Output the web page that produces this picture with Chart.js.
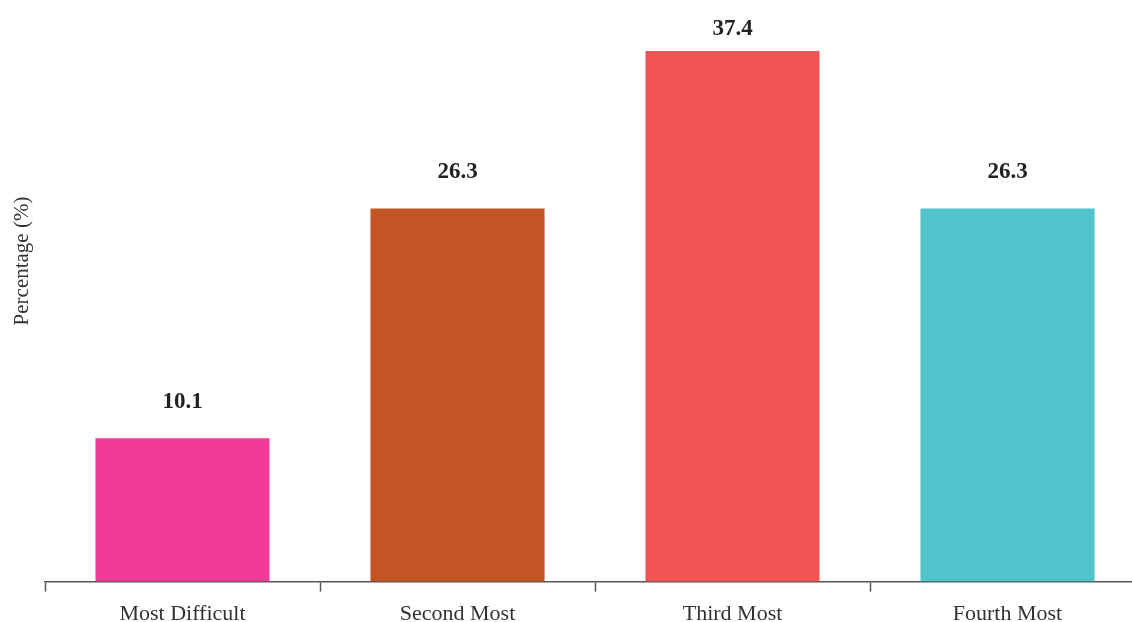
<!DOCTYPE html>
<html>
<head>
<meta charset="utf-8">
<script src="https://cdn.jsdelivr.net/npm/chart.js@4/dist/chart.umd.min.js"></script>
<style>
  html, body { margin: 0; padding: 0; background: #fff; overflow: hidden; }
  #frame { width: 1132px; height: 622px; overflow: hidden; }
  #wrap { position: relative; width: 1150px; height: 636px; }
</style>
</head>
<body>
<div id="frame"><div id="wrap"><canvas id="rankChart"></canvas></div></div>
<script>
const categories = ["Most Difficult", "Second Most", "Third Most", "Fourth Most"];
const percentages = [10.1, 26.3, 37.4, 26.3];
const barColors = ["#F03C98", "#C55424", "#F25456", "#50C4CB"];
const axisTitle = "Percentage (%)";

const serif = "'Liberation Serif', 'DejaVu Serif', serif";

// value labels above each bar, kept inside the top edge
const valueLabels = {
  id: "valueLabels",
  afterDatasetsDraw(chart) {
    const { ctx } = chart;
    const meta = chart.getDatasetMeta(0);
    ctx.save();
    ctx.font = "bold 23px " + serif;
    ctx.fillStyle = "#222";
    ctx.textAlign = "center";
    ctx.textBaseline = "alphabetic";
    meta.data.forEach((bar, i) => {
      const y = Math.max(bar.y - 30, 35);
      ctx.fillText(percentages[i].toFixed(1), bar.x, y);
    });
    ctx.restore();
  },
};

// rotated y axis title, left of the plot
const yTitle = {
  id: "yTitle",
  afterDraw(chart) {
    const { ctx } = chart;
    ctx.save();
    ctx.translate(22, 261);
    ctx.rotate(-Math.PI / 2);
    ctx.font = "21px " + serif;
    ctx.fillStyle = "#333";
    ctx.textAlign = "center";
    ctx.textBaseline = "middle";
    ctx.fillText(axisTitle, 0, 0);
    ctx.restore();
  },
};

new Chart(document.getElementById("rankChart"), {
  type: "bar",
  data: {
    labels: categories,
    datasets: [
      {
        data: percentages,
        backgroundColor: barColors,
        borderWidth: 0,
        barPercentage: 0.633,
        categoryPercentage: 1,
      },
    ],
  },
  options: {
    responsive: true,
    maintainAspectRatio: false,
    animation: false,
    layout: { padding: { left: 45, right: 5, top: 14, bottom: 0 } },
    plugins: { legend: { display: false }, tooltip: { enabled: false } },
    scales: {
      x: {
        grid: {
          offset: true,
          drawOnChartArea: false,
          drawTicks: true,
          tickLength: 10,
          tickColor: "#555",
          tickWidth: 1.5,
        },
        border: { display: true, color: "#555", width: 1.5 },
        ticks: {
          color: "#333",
          font: { family: serif, size: 22 },
          padding: 9,
          maxRotation: 0,
        },
      },
      y: {
        display: false,
        min: 0,
        max: 40,
      },
    },
  },
  plugins: [valueLabels, yTitle],
});
</script>
</body>
</html>
